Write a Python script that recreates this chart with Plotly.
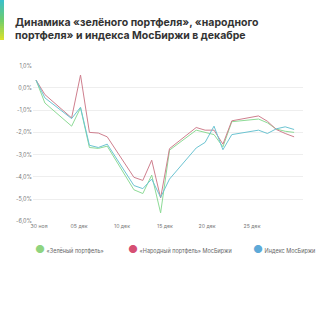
import pandas as pd
import plotly.graph_objects as go

dates = ["2023-11-30", "2023-12-01", "2023-12-04", "2023-12-05", "2023-12-06", "2023-12-07",
         "2023-12-08", "2023-12-11", "2023-12-12", "2023-12-13", "2023-12-14", "2023-12-15",
         "2023-12-18", "2023-12-19", "2023-12-20", "2023-12-21", "2023-12-22", "2023-12-25",
         "2023-12-26", "2023-12-27", "2023-12-28", "2023-12-29"]

green = [0.35, -0.68, -1.72, -0.90, -2.68, -2.72, -2.62, -4.58, -4.75, -3.92, -5.62, -2.80,
         -1.90, -2.00, -2.10, -2.65, -1.52, -1.40, -1.57, -1.85, -1.95, -2.00]
red = [0.35, -0.30, -1.35, 0.58, -2.00, -2.03, -2.20, -4.02, -4.16, -3.25, -4.95, -2.73,
       -1.78, -1.90, -1.90, -2.53, -1.48, -1.26, -1.50, -1.87, -2.05, -2.20]
blue = [0.35, -0.45, -1.38, -0.87, -2.58, -2.68, -2.53, -4.39, -4.53, -4.10, -4.92, -4.10,
        -2.70, -2.45, -1.72, -2.78, -2.10, -1.90, -2.05, -1.84, -1.75, -1.87]

series_names = ["«Зелёный портфель»", "«Народный портфель» МосБиржи", "Индекс МосБиржи"]
line_colors = ["#8ddb96", "#cf7f8e", "#6cc4d2"]
dot_colors = ["#8fd47f", "#d64f73", "#5eaad8"]

y_ticks = [1, 0, -1, -2, -3, -4, -5, -6]
y_tick_labels = ["1,0%", "0,0%", "-1,0%", "-2,0%", "-3,0%", "-4,0%", "-5,0%", "-6,0%"]
x_tick_labels = ["30 ноя", "05 дек", "10 дек", "15 дек", "20 дек", "25 дек"]
x_tick_pos = [0.34, 4.83, 9.66, 14.49, 19.21, 24.27]

d = pd.to_datetime(pd.Series(dates))
xdays = ((d - d.iloc[0]).dt.days).tolist()

fig = go.Figure()
for vals, col, name in zip([green, red, blue], line_colors, series_names):
    fig.add_trace(go.Scatter(x=xdays, y=vals, mode="lines", name=name,
                             line=dict(color=col, width=1), showlegend=False))

font_family = "Inter, Open Sans, sans-serif"

fig.update_layout(
    width=320, height=320,
    margin=dict(l=33, r=17, t=65, b=98),
    paper_bgcolor="white", plot_bgcolor="white",
    font=dict(family=font_family, color="#666"),
    title=dict(
        text="<b>Динамика «зелёного портфеля», «народного<br>портфеля» и индекса МосБиржи в декабре</b>",
        xref="container", yref="container", x=15/320, y=1-25.5/320,
        xanchor="left", yanchor="middle",
        font=dict(family=font_family, size=10.5, color="#333"),
    ),
    xaxis=dict(range=[-0.34, 30.0], tickvals=x_tick_pos, ticktext=x_tick_labels,
               showgrid=False, zeroline=False, showline=False, ticks="",
               tickfont=dict(size=5.2, color="#777"), fixedrange=True),
    yaxis=dict(range=[-6.03, 1.03], tickvals=y_ticks, ticktext=y_tick_labels,
               showgrid=True, gridcolor="#eeeeee", gridwidth=1, zeroline=False,
               showline=False, ticks="", tickfont=dict(size=5.5, color="#777"),
               fixedrange=True),
)

# legend drawn as annotations
leg_x = [0.0, (126-33)/270, (251-33)/270]
for name, col, lx in zip(series_names, dot_colors, leg_x):
    fig.add_annotation(
        xref="paper", yref="paper", x=lx, y=-(249-222)/157,
        xanchor="left", yanchor="middle", showarrow=False,
        text=f"<span style='color:{col};font-size:11px'>●</span> {name}",
        font=dict(family=font_family, size=5.5, color="#666"),
    )

# gradient accent bar at top-left
n = 20
c_top = (60, 192, 200)
c_mid = (110, 205, 110)
c_bot = (215, 225, 45)
for i in range(n):
    t = i / (n - 1)
    if t < 0.5:
        a, b, s = c_top, c_mid, t / 0.5
    else:
        a, b, s = c_mid, c_bot, (t - 0.5) / 0.5
    c = tuple(int(a[k] + (b[k] - a[k]) * s) for k in range(3))
    y0 = 0 + 40 * i / n
    y1 = 0 + 40 * (i + 1) / n
    fig.add_shape(type="rect", xref="paper", yref="paper",
                  x0=(0-33)/270, x1=(4-33)/270,
                  y0=1 + (65-y1)/157, y1=1 + (65-y0)/157,
                  fillcolor=f"rgb{c}", line=dict(width=0), layer="above")

fig.write_html("out.html", config={"displayModeBar": False})
